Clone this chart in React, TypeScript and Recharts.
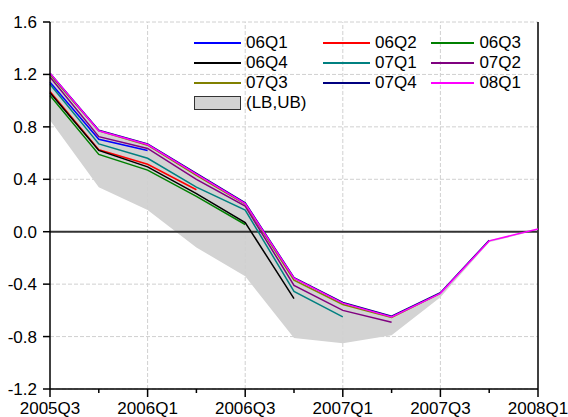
import React from 'react';
import { ComposedChart, Line, Area, XAxis, YAxis, CartesianGrid, ReferenceLine } from 'recharts';

const quarters = ['2005Q3', '2005Q4', '2006Q1', '2006Q2', '2006Q3', '2006Q4', '2007Q1', '2007Q2', '2007Q3', '2007Q4', '2008Q1'];

// each vintage runs from 2005Q3 up to its own quarter
const v06Q1 = [1.14, 0.705, 0.62];
const v06Q2 = [1.07, 0.625, 0.515, 0.32];
const v06Q3 = [1.04, 0.59, 0.47, 0.27, 0.055];
const v06Q4 = [1.06, 0.62, 0.495, 0.29, 0.07, -0.51];
const v07Q1 = [1.125, 0.67, 0.56, 0.34, 0.165, -0.455, -0.65];
const v07Q2 = [1.18, 0.725, 0.635, 0.4, 0.195, -0.41, -0.6, -0.69];
const v07Q3 = [1.2, 0.77, 0.66, 0.43, 0.21, -0.37, -0.555, -0.655, -0.47];
const v07Q4 = [1.21, 0.775, 0.67, 0.445, 0.22, -0.35, -0.54, -0.645, -0.465, -0.065];
const v08Q1 = [1.21, 0.77, 0.665, 0.44, 0.215, -0.355, -0.545, -0.65, -0.47, -0.07, 0.02];

const lowerBound = [0.85, 0.34, 0.165, -0.12, -0.34, -0.81, -0.85, -0.79, -0.5, -0.08, 0.015];
const upperBound = [1.21, 0.775, 0.67, 0.445, 0.22, -0.35, -0.54, -0.645, -0.465, -0.065, 0.02];

const yTicks = [-1.2, -0.8, -0.4, 0, 0.4, 0.8, 1.2, 1.6];
const xGrid = [2, 4, 6, 8];

const SERIES = [
    { name: '06Q1', values: v06Q1, color: '#0000ff' },
    { name: '06Q2', values: v06Q2, color: '#ff0000' },
    { name: '06Q3', values: v06Q3, color: '#008000' },
    { name: '06Q4', values: v06Q4, color: '#000000' },
    { name: '07Q1', values: v07Q1, color: '#008080' },
    { name: '07Q2', values: v07Q2, color: '#800080' },
    { name: '07Q3', values: v07Q3, color: '#808000' },
    { name: '07Q4', values: v07Q4, color: '#000080' },
    { name: '08Q1', values: v08Q1, color: '#ff00ff' },
];

const data = quarters.map((q, i) => {
    const row: any = { i, q, band: [lowerBound[i], upperBound[i]] };
    SERIES.forEach(s => {
        row[s.name] = s.values[i];
    });
    return row;
});

const FONT = 'Arial, "Liberation Sans", sans-serif';

const QuarterTick = (props: any) => {
    const { x, y, payload } = props;
    const idx = payload.value;
    const major = idx % 2 === 0;
    return (
        <g>
            <line x1={x} x2={x} y1={y} y2={y + (major ? 8 : 4)} stroke="#000" strokeWidth={1.5} />
            {major && (
                <text x={x} y={y + 25} textAnchor="middle" fontSize={17} fill="#000">
                    {quarters[idx]}
                </text>
            )}
        </g>
    );
};

const ChartLegend = () => {
    const cell = (key: string, swatch: React.ReactNode, label: string) => (
        <div key={key} style={{ display: 'flex', alignItems: 'center', height: 20 }}>
            {swatch}
            <span style={{ marginLeft: 5, fontSize: 17, lineHeight: '20px' }}>{label}</span>
        </div>
    );
    return (
        <div
            style={{
                position: 'absolute',
                left: 194,
                top: 33,
                display: 'grid',
                gridTemplateColumns: '129px 108px 90px',
            }}
        >
            {SERIES.map(s =>
                cell(s.name, <div style={{ width: 47, height: 1.5, background: s.color }} />, s.name)
            )}
            {cell(
                'band',
                <div style={{ width: 45, height: 12, background: '#d3d3d3', border: '1px solid #333' }} />,
                '(LB,UB)'
            )}
        </div>
    );
};

export default function App() {
    return (
        <div style={{ position: 'absolute', left: 0, top: 0, width: 568, height: 417, background: '#fff', fontFamily: FONT }}>
            <ComposedChart width={568} height={417} data={data} margin={{ top: 22, right: 30, left: 0, bottom: 0 }}>
                <CartesianGrid vertical={false} stroke="#d0d0d0" strokeDasharray="4 2" />
                {xGrid.map(v => (
                    <ReferenceLine key={v} x={v} stroke="#d0d0d0" strokeDasharray="4 2" />
                ))}
                <XAxis
                    dataKey="i"
                    type="number"
                    domain={[0, 10]}
                    ticks={quarters.map((_, i) => i)}
                    interval={0}
                    height={28}
                    tickSize={0}
                    tickMargin={0}
                    tickLine={false}
                    axisLine={{ stroke: '#000', strokeWidth: 1.5 }}
                    tick={<QuarterTick />}
                />
                <YAxis
                    type="number"
                    domain={[-1.2, 1.6]}
                    ticks={yTicks}
                    interval={0}
                    width={50}
                    tickSize={7}
                    tickMargin={6}
                    tickFormatter={(v: number) => v.toFixed(1)}
                    tick={{ fontSize: 17, fill: '#000' }}
                    tickLine={{ stroke: '#000', strokeWidth: 1.5 }}
                    axisLine={{ stroke: '#000', strokeWidth: 1.5 }}
                />
                <ReferenceLine x={10} stroke="#000" strokeWidth={1.5} />
                <Area
                    type="linear"
                    dataKey="band"
                    stroke="none"
                    fill="#d3d3d3"
                    fillOpacity={1}
                    isAnimationActive={false}
                />
                <ReferenceLine y={0} stroke="#333" strokeWidth={2} />
                {SERIES.map(s => (
                    <Line
                        key={s.name}
                        type="linear"
                        dataKey={s.name}
                        stroke={s.color}
                        strokeWidth={1.5}
                        dot={false}
                        isAnimationActive={false}
                    />
                ))}
            </ComposedChart>
            <ChartLegend />
        </div>
    );
}
